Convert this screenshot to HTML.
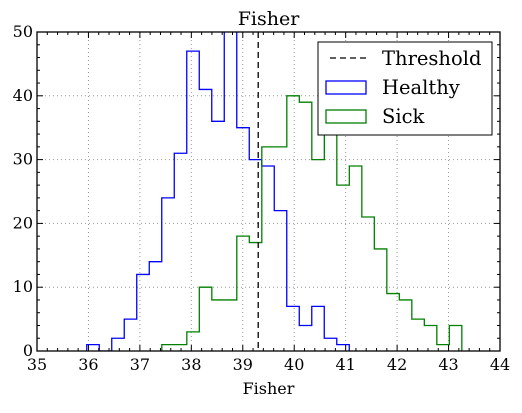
<!DOCTYPE html>
<html><head><meta charset="utf-8"><style>
body{margin:0;background:#fff;}
svg text{font-family:"DejaVu Serif","Liberation Serif",serif;}
</style></head><body>
<svg id="chart" width="522" height="408" xmlns="http://www.w3.org/2000/svg"></svg>
<script>
const xTicks=[35,36,37,38,39,40,41,42,43,44];
const yTicks=[0,10,20,30,40,50];
const binWidth=0.243;
const healthyStart=35.967;
const healthyCounts=[1,0,2,5,12,14,24,31,47,41,36,55,35,30,29,22,7,4,7,2,1];
const sickStart=37.426;
const sickCounts=[1,1,3,10,8,8,18,17,32,32,40,39,30,44,26,29,21,16,9,8,5,4,1,4];
const threshold=39.3;

const L=37,R=500,T=32,B=351;
const X=v=>L+(v-35)/(44-35)*(R-L);
const Y=v=>B-(v-0)/(50-0)*(B-T);
const svg=document.getElementById('chart');
const NS='http://www.w3.org/2000/svg';
function mk(tag,attrs,parent){const e=document.createElementNS(NS,tag);for(const k in attrs)e.setAttribute(k,attrs[k]);(parent||svg).appendChild(e);return e;}

const defs=mk('defs',{});
const cp=mk('clipPath',{id:'clip'},defs);
mk('rect',{x:L,y:T,width:R-L,height:B-T},cp);

const grid=mk('g',{});


xTicks.forEach(t=>{if(t>35&&t<44)mk('line',{x1:X(t),x2:X(t),y1:T,y2:B,stroke:'#999','stroke-dasharray':'1,3','stroke-width':1},grid);});
yTicks.forEach(t=>{if(t>0&&t<50)mk('line',{x1:L,x2:R,y1:Y(t),y2:Y(t),stroke:'#999','stroke-dasharray':'1,3','stroke-width':1},grid);});

function stepPath(start,counts){
  let d=`M${X(start)},${Y(0)}`;
  counts.forEach((c,i)=>{const x0=X(start+i*binWidth),x1=X(start+(i+1)*binWidth);d+=` L${x0},${Y(c)} L${x1},${Y(c)}`;});
  d+=` L${X(start+counts.length*binWidth)},${Y(0)}`;
  return d;
}
const hp=mk('path',{d:stepPath(healthyStart,healthyCounts),fill:'none',stroke:'#0000ff','stroke-width':1.3,'clip-path':'url(#clip)'});


const sp=mk('path',{d:stepPath(sickStart,sickCounts),fill:'none',stroke:'#008000','stroke-width':1.3,'clip-path':'url(#clip)'});


const th=mk('line',{x1:X(threshold),x2:X(threshold),y1:T,y2:B,stroke:'#000','stroke-width':1.3,'stroke-dasharray':'6,4'});



const ticks=mk('g',{stroke:'#000','stroke-width':1});
for(let v=35;v<=44.001;v+=0.2){const x=X(v);const major=Math.abs(v-Math.round(v))<1e-6;const len=major?6:3;
  mk('line',{x1:x,x2:x,y1:B,y2:B-len},ticks);mk('line',{x1:x,x2:x,y1:T,y2:T+len},ticks);}
for(let v=0;v<=50;v+=2){const y=Y(v);const len=v%10===0?6:3;
  mk('line',{x1:L,x2:L+len,y1:y,y2:y},ticks);mk('line',{x1:R,x2:R-len,y1:y,y2:y},ticks);}
xTicks.forEach(t=>{const e=mk('text',{x:X(t),y:B+19,'text-anchor':'middle','font-size':16});e.textContent=t;
  
  });
yTicks.forEach(t=>{const e=mk('text',{x:L-4,y:Y(t)+5,'text-anchor':'end','font-size':16});e.textContent=t;
  
  });

const frame=mk('rect',{x:L,y:T,width:R-L,height:B-T,fill:'none',stroke:'#000','stroke-width':1.3});



const title=mk('text',{x:(L+R)/2,y:25,'text-anchor':'middle','font-size':19});title.textContent='Fisher';


const xl=mk('text',{x:(L+R)/2,y:394,'text-anchor':'middle','font-size':16});xl.textContent='Fisher';



const lg=mk('g',{});


mk('rect',{x:318,y:42,width:174,height:93,fill:'#fff',stroke:'#000','stroke-width':1},lg);
mk('line',{x1:330,x2:370,y1:58,y2:58,stroke:'#000','stroke-width':1.3,'stroke-dasharray':'6,4'},lg);
mk('rect',{x:326,y:81,width:40,height:13,fill:'none',stroke:'#0000ff','stroke-width':1.3},lg);
mk('rect',{x:326,y:110,width:40,height:13,fill:'none',stroke:'#008000','stroke-width':1.3},lg);
[['Threshold',65],['Healthy',94],['Sick',123]].forEach(([s,y])=>{const e=mk('text',{x:382,y:y,'font-size':19.5},lg);e.textContent=s;
  
  });
</script>
</body></html>
